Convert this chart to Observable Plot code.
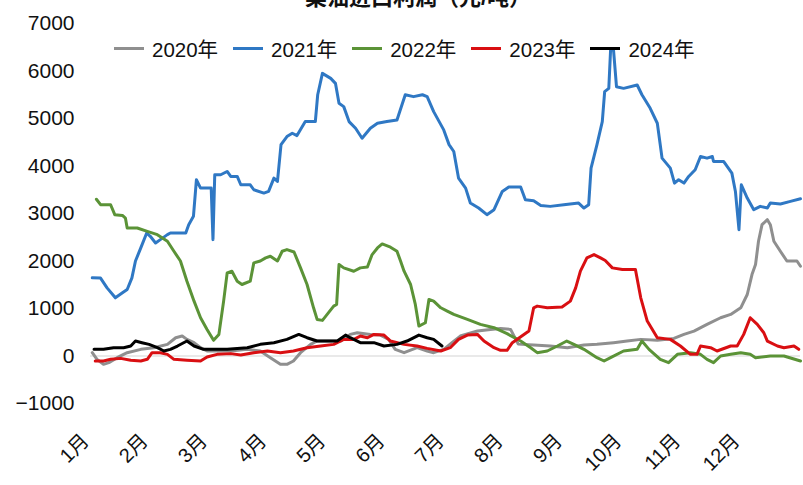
<!DOCTYPE html>
<html>
<head>
<meta charset="utf-8">
<script src="https://cdn.jsdelivr.net/npm/d3@7"></script>
<script src="https://cdn.jsdelivr.net/npm/@observablehq/plot@0.6"></script>
<style>
  html, body { margin: 0; padding: 0; background: #fff; }
  #wrap { position: relative; width: 803px; height: 485px; overflow: hidden;
          font-family: "Liberation Sans", Arial, "Noto Sans CJK SC", sans-serif; }
  #title { position: absolute; top: -21px; left: 0; width: 836px; text-align: center;
           font-size: 22px; font-weight: bold; color: #111; white-space: nowrap; }
  #legend { position: absolute; top: 33px; left: 114px; display: flex; align-items: center;
            font-size: 20.5px; color: #111; z-index: 2; }
  .item { display: flex; align-items: center; margin-right: 15px; }
  .swatch { width: 30px; height: 3px; margin-right: 8px; }
  #chart { position: absolute; left: 0; top: 0; }
</style>
</head>
<body>
<div id="wrap">
  <div id="title">菜油进口利润（元/吨）</div>
  <div id="legend"></div>
  <div id="chart"></div>
</div>
<script>
// x positions are in months from 1 January (0 = start of Jan, 12 = end of Dec)
const months2020 = [0.03,0.11,0.22,0.31,0.45,0.62,0.85,1.07,1.30,1.44,1.55,1.63,1.75,1.86,1.97,2.37,2.65,2.87,3.04,3.21,3.32,3.43,3.55,3.72,3.83,4.23,4.39,4.51,4.73,4.90,5.04,5.15,5.30,5.52,5.69,5.80,5.97,6.11,6.25,6.54,6.76,6.93,7.10,7.23,7.49,7.77,8.06,8.34,8.56,8.84,9.07,9.30,9.58,9.86,10.03,10.20,10.42,10.65,10.82,10.99,11.10,11.18,11.24,11.29,11.35,11.44,11.49,11.55,11.66,11.77,11.94,12.0];
const values2020 = [70,-70,-175,-140,-35,70,140,175,245,385,420,350,280,175,105,105,140,105,-35,-175,-175,-105,70,245,315,315,455,490,455,440,350,140,70,175,105,70,140,280,420,525,560,580,560,250,230,210,175,230,245,280,315,350,330,370,455,525,665,805,875,1015,1295,1715,1925,2415,2765,2870,2765,2415,2205,2000,2000,1890];

const months2021 = [0.03,0.17,0.28,0.42,0.54,0.62,0.70,0.76,0.85,0.95,1.01,1.10,1.18,1.30,1.35,1.61,1.66,1.74,1.79,1.86,1.97,2.04,2.07,2.10,2.20,2.31,2.37,2.48,2.54,2.70,2.76,2.93,3.01,3.10,3.16,3.22,3.32,3.41,3.49,3.63,3.80,3.84,3.92,4.06,4.14,4.20,4.28,4.37,4.48,4.59,4.73,4.85,5.01,5.18,5.32,5.46,5.61,5.69,5.80,5.97,6.06,6.14,6.22,6.34,6.42,6.56,6.70,6.82,6.96,7.07,7.27,7.35,7.49,7.61,7.77,8.00,8.25,8.34,8.42,8.46,8.56,8.65,8.69,8.76,8.79,8.84,8.89,9.01,9.24,9.32,9.46,9.58,9.66,9.80,9.87,9.94,10.03,10.11,10.22,10.31,10.42,10.51,10.53,10.70,10.84,10.90,10.96,11.00,11.10,11.21,11.32,11.44,11.49,11.66,11.83,12.0];
const values2021 = [1645,1640,1435,1225,1330,1400,1645,2000,2275,2590,2520,2380,2450,2555,2590,2590,2765,2940,3710,3535,3535,3535,2450,3815,3815,3885,3780,3780,3605,3605,3500,3430,3465,3745,3675,4450,4620,4690,4640,4935,4935,5500,5950,5845,5740,5320,5250,4935,4795,4585,4795,4900,4935,4970,5500,5460,5500,5460,5145,4760,4450,4305,3745,3535,3220,3115,2975,3080,3465,3560,3560,3290,3270,3170,3150,3185,3220,3115,3185,3955,4450,4935,5565,5635,6440,6440,5670,5635,5705,5500,5215,4900,4165,3955,3640,3710,3640,3780,3920,4200,4165,4200,4095,4095,3850,3465,2660,3605,3325,3080,3150,3115,3220,3200,3255,3310];

const months2022 = [0.10,0.17,0.34,0.41,0.54,0.59,0.62,0.79,0.96,1.13,1.30,1.41,1.52,1.63,1.75,1.86,1.97,2.08,2.17,2.25,2.31,2.39,2.48,2.56,2.70,2.76,2.87,2.96,3.04,3.16,3.24,3.32,3.44,3.55,3.66,3.77,3.83,3.92,4.00,4.11,4.16,4.20,4.28,4.45,4.56,4.68,4.76,4.85,4.93,5.07,5.18,5.24,5.30,5.41,5.49,5.55,5.66,5.72,5.80,5.92,6.03,6.14,6.37,6.59,6.82,7.04,7.27,7.44,7.55,7.72,7.89,8.05,8.17,8.34,8.56,8.68,8.79,9.01,9.24,9.32,9.44,9.63,9.77,9.92,10.14,10.31,10.42,10.53,10.65,10.82,10.99,11.15,11.24,11.49,11.72,12.0];
const values2022 = [3300,3185,3185,2975,2960,2905,2695,2695,2625,2555,2415,2205,2000,1575,1155,805,560,330,455,1155,1750,1785,1575,1505,1575,1960,2000,2065,2100,2000,2205,2240,2190,1855,1505,1015,770,750,875,1050,1085,1925,1855,1785,1855,1875,2135,2275,2360,2290,2205,2000,1785,1505,1085,630,700,1190,1155,1015,945,875,770,665,595,470,315,175,70,105,210,315,245,140,-35,-105,-35,105,140,315,140,-70,-140,35,70,35,-70,-140,0,35,70,35,-35,0,0,-105];

const months2023 = [0.08,0.22,0.34,0.51,0.68,0.85,0.96,1.04,1.18,1.30,1.41,1.63,1.86,1.97,2.14,2.37,2.54,2.76,2.99,3.21,3.43,3.66,3.89,4.11,4.28,4.45,4.56,4.68,4.79,4.96,5.07,5.30,5.52,5.69,5.92,6.08,6.22,6.37,6.54,6.65,6.82,6.93,7.04,7.13,7.29,7.41,7.49,7.55,7.72,7.97,8.11,8.20,8.28,8.39,8.51,8.62,8.70,8.82,8.99,9.21,9.30,9.41,9.58,9.80,9.97,10.14,10.25,10.31,10.48,10.59,10.82,10.93,11.04,11.15,11.27,11.38,11.44,11.61,11.72,11.89,11.97];
const values2023 = [-105,-105,-70,-50,-90,-105,-70,70,70,35,-70,-90,-105,-20,35,50,20,70,105,70,105,175,210,245,350,350,420,385,455,440,315,245,210,160,105,175,350,440,455,315,175,120,120,280,420,525,1015,1050,1015,1030,1155,1435,1785,2065,2135,2065,2010,1855,1820,1820,1225,735,385,350,210,35,35,210,175,105,210,210,455,805,665,490,315,210,175,210,140];

const months2024 = [0.06,0.22,0.39,0.56,0.68,0.76,0.87,0.99,1.13,1.24,1.35,1.47,1.63,1.75,1.91,2.31,2.65,2.87,3.10,3.32,3.52,3.66,3.83,4.17,4.31,4.39,4.56,4.79,4.96,5.18,5.35,5.55,5.69,5.80,5.94];
const values2024 = [140,140,175,175,210,315,280,245,175,105,140,210,315,210,140,140,175,245,280,350,455,385,315,315,440,385,280,280,210,245,315,440,385,350,210];

const yearNames = ["2020年", "2021年", "2022年", "2023年", "2024年"];
const yearColors = ["#8f8f8f", "#2f78c4", "#5b9337", "#d90f12", "#000000"];

const monthTicks = [0,1,2,3,4,5,6,7,8,9,10,11];
const monthLabels = ["1月","2月","3月","4月","5月","6月","7月","8月","9月","10月","11月","12月"];
const yTicks = [-1000,0,1000,2000,3000,4000,5000,6000,7000];

const seriesX = [months2020, months2021, months2022, months2023, months2024];
const seriesY = [values2020, values2021, values2022, values2023, values2024];

const lineMarks = seriesY.map((vals, i) =>
  Plot.line(vals, {
    x: seriesX[i],
    y: vals,
    stroke: yearColors[i],
    strokeWidth: 3,
    strokeLinejoin: "round",
    strokeLinecap: "round"
  })
);

const chart = Plot.plot({
  width: 803,
  height: 485,
  marginLeft: 90,
  marginRight: 3,
  marginTop: 23,
  marginBottom: 82,
  style: { fontFamily: '"Liberation Sans", Arial, "Noto Sans CJK SC", sans-serif', color: "#111", background: "transparent" },
  x: { domain: [0, 12] },
  y: { domain: [-1000, 7000] },
  marks: [
    Plot.ruleY([0], { stroke: "#d4d4d4", strokeWidth: 1.2 }),
    Plot.axisY({
      ticks: yTicks,
      tickSize: 0,
      tickPadding: 16,
      fontSize: 21,
      label: null,
      tickFormat: d => (d < 0 ? "\u2212" + Math.abs(d) : String(d))
    }),
    Plot.axisX({ ticks: [], label: null }),
    Plot.text(monthTicks, {
      x: d => d,
      text: d => monthLabels[d],
      frameAnchor: "bottom",
      rotate: -45,
      textAnchor: "end",
      lineAnchor: "middle",
      fontSize: 20,
      dx: -5,
      dy: 34
    }),
    ...lineMarks
  ]
});
document.getElementById("chart").appendChild(chart);

// legend row
const legend = document.getElementById("legend");
yearNames.forEach((name, i) => {
  const item = document.createElement("div");
  item.className = "item";
  const sw = document.createElement("span");
  sw.className = "swatch";
  sw.style.background = yearColors[i];
  const label = document.createElement("span");
  label.textContent = name;
  item.appendChild(sw);
  item.appendChild(label);
  legend.appendChild(item);
});
</script>
</body>
</html>
